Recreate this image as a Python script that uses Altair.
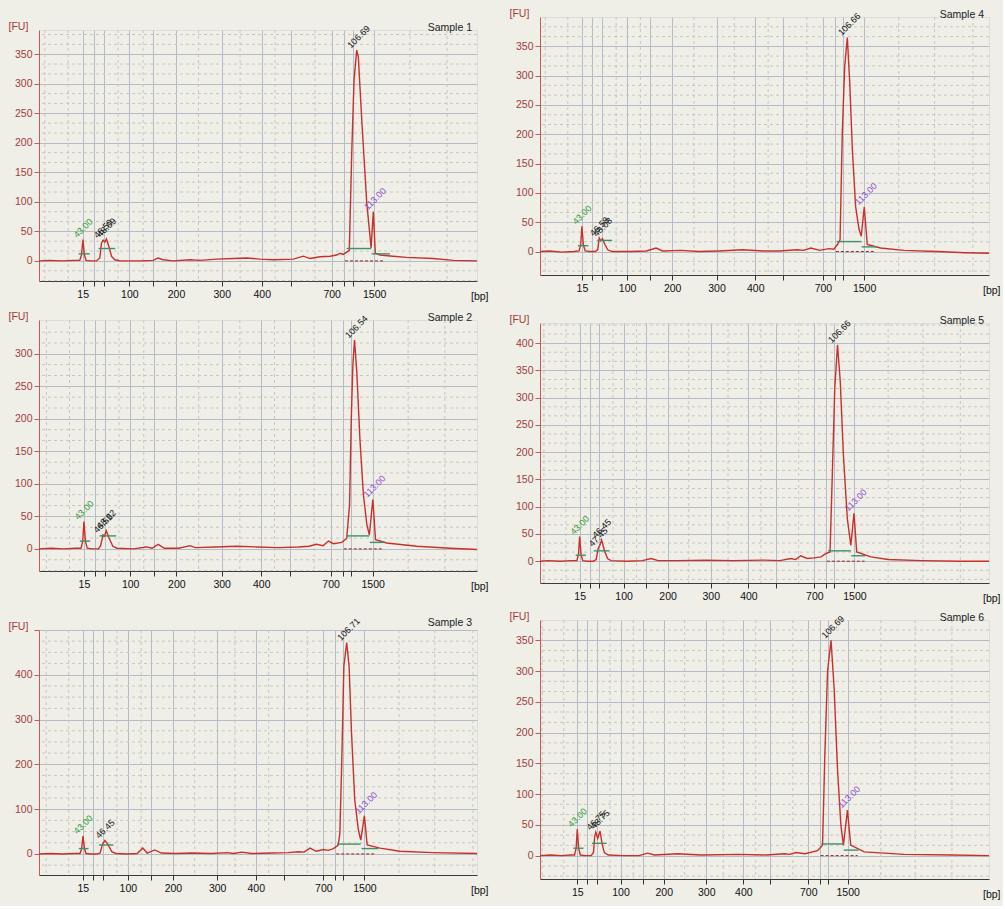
import altair as alt
import pandas as pd

# ---------------- data ----------------
# DNA 1000 ladder: fragment sizes and their migration times (s)
LADDER_BP = ["15", "25", "50", "100", "150", "200", "300", "400", "500", "700", "850", "1000", "1500"]
LADDER_T = [43.0, 45.6, 48.0, 54.2, 60.0, 65.4, 76.4, 86.0, 93.0, 102.8, 105.8, 107.8, 113.0]
LABELLED_BP = ["15", "100", "200", "300", "400", "700", "1500"]
MINOR_T = [33.9, 39.5, 51.5, 57.5, 70.8, 80.8, 89.2, 98.8, 121.6, 130.5, 140.0]

SAMPLES = ["Sample 1", "Sample 2", "Sample 3", "Sample 4", "Sample 5", "Sample 6"]

# electropherogram traces: migration time (s) and fluorescence (FU)
S1_T = [32.5, 35, 38, 41, 42.3, 42.7, 43.05, 43.4, 43.8, 45, 46.3, 47.1, 47.5, 47.9, 48.3, 48.7, 49.4, 49.9, 50.7, 52,
        56.7, 59.9, 61.1, 62.3, 64.7, 68.8, 71.2, 75.2, 79.2, 82.4, 85.6, 88.8, 93.6, 96.0, 97.6, 100.0, 102.4, 104.0,
        104.8, 105.6, 106.4, 107.03, 107.61, 108.17, 108.81, 109.2, 110.02, 111.22, 112.01, 112.25, 112.8, 113.28,
        114.4, 117.5, 120.8, 127.1, 132.0, 137.7]
S1_FU = [0, 1, 0, 1, 1, 10, 36, 10, 1, 0, 0, 5, 30, 35, 32, 37, 22, 8, 2, 0,
         0, 1, 5, 2, 0, 2, 1, 3, 4, 5, 3, 2, 3, 8, 4, 7, 8, 10,
         13, 11, 15, 18, 182, 307, 357, 345, 239, 98, 41, 22, 83, 13,
         10, 8, 6, 4, 1, 0]

S2_T = [32.1, 35, 38, 41, 42.3, 42.7, 43.0, 43.35, 43.8, 45, 46.5, 47.05, 47.6, 48.0, 48.4, 49.0, 50.0, 51, 55, 58.15,
        59.5, 61.0, 62.5, 66, 68.7, 70, 75, 80, 85, 90, 95, 97.5, 99.4, 101, 102.3, 103.5, 105.5, 106.7, 107.4, 107.8,
        108.2, 108.6, 109.15, 109.9, 110.76, 111.6, 112.2, 113.04, 113.7, 116.4, 123.7, 131.8, 138.3]
S2_FU = [0, 1, 0, 1, 1, 12, 42, 12, 1, 0, 0, 5, 21.5, 20, 28, 18, 4, 1, 0, 3,
         1, 7, 1, 1, 5, 2, 3, 4, 3, 2, 3, 4, 7, 5, 12, 8, 10, 16, 68, 196,
         283, 321, 273, 170, 83, 37, 21.5, 76, 14, 9, 4, 1, -1]

S3_T = [32.1, 35, 38, 41, 42.3, 42.7, 43.04, 43.4, 43.8, 45, 46.5, 47.3, 47.9, 48.5, 49.2, 50.2, 51.2, 54, 56.5, 57.9,
        59, 60.9, 62.5, 66, 70, 75, 78.8, 80.5, 82.5, 85, 90, 94, 96.6, 98, 99.5, 101, 102.8, 104, 105.3, 106.5, 106.9,
        107.35, 107.9, 108.6, 109.2, 109.8, 110.6, 111.5, 112.1, 113.0, 113.7, 116.9, 121.8, 130.1, 141.0]
S3_FU = [0, 1, 0, 1, 1, 12, 40, 12, 1, 0, 0, 2, 22, 30, 22, 5, 1, 0, 1, 13,
         2, 9, 2, 1, 2, 1, 3, 1, 4, 1, 2, 3, 5, 4, 13, 6, 10, 8, 12, 20, 46,
         196, 419, 472, 419, 270, 121, 54, 31, 85, 20, 13, 6, 3, 1]

S4_T = [32.6, 35, 38, 41, 42.3, 42.7, 43.0, 43.35, 43.8, 45, 46.3, 46.9, 47.3, 47.7, 48.1, 48.7, 49.4, 50.5, 55, 59,
        61.4, 63, 67.6, 72, 77, 82.8, 88, 92, 96.5, 98, 99.8, 102, 104.3, 105.5, 106.4, 107.05, 107.6, 108.2, 108.85,
        109.45, 110.1, 110.9, 111.75, 112.3, 113.05, 113.8, 117.1, 122.9, 131.2, 138, 144.0]
S4_FU = [0, 1, -1, 0, 1, 12, 43, 12, 1, 0, 0, 3, 23, 18, 22, 12, 3, 0, 0, 1,
         6, 1, 2, 0, 1, 3, 1, 1, 3, 2, 6, 2, 5, 4, 12, 20, 203, 316, 365,
         288, 174, 77, 38, 26, 76, 12, 6, 2, 0, -2, -3]

S5_T = [32.9, 35, 38, 41, 42.3, 42.7, 43.0, 43.35, 43.8, 45, 46.5, 47.2, 47.7, 48.2, 48.6, 49.3, 50.1, 51, 55, 59,
        61.2, 63, 68, 75, 82, 90, 94, 96.8, 98, 99.3, 101, 102.7, 104.5, 105.7, 106.8, 107.4, 108.0, 108.7, 109.4,
        110.2, 111.2, 112.1, 112.9, 113.6, 117.2, 121.6, 130, 140, 147.3]
S5_FU = [0, 1, 0, 1, 1, 12, 45, 12, 1, 0, 0, 3, 23, 30, 39, 20, 5, 1, 0, 1,
         5, 1, 1, 2, 1, 2, 1, 5, 3, 10, 5, 6, 8, 14, 17, 164, 317, 397, 330,
         195, 78, 29, 88, 17, 8, 3, 1, 0, 0]

S6_T = [33.35, 36, 39, 41.5, 42.3, 42.7, 43.0, 43.35, 43.8, 45, 46.6, 47.2, 47.5, 47.8, 48.3, 48.9, 49.4, 50.0, 51, 55,
        59, 61.2, 63, 69.0, 75, 85, 92, 96.6, 98, 99.6, 102, 105.2, 106.5, 107.1, 107.8, 108.7, 109.5, 110.4, 111.25,
        111.9, 112.95, 113.8, 117.3, 127.6, 140, 149.6]
S6_FU = [0, 1, 0, 1, 1, 12, 43, 12, 1, 0, 0, 5, 30, 38, 28, 40, 20, 5, 1, 0,
         0, 4, 1, 3, 1, 2, 1, 3, 2, 5, 3, 8, 17, 164, 300, 350, 273, 137, 50,
         17, 74, 17, 6, 2, 1, 0]

# peak annotations: (time, FU, label, kind)
S1_PEAKS = [(43.05, 36, "43.00", "lower"), (47.9, 35, "46.50", "peak"), (48.7, 37, "48.09", "peak"),
            (108.81, 357, "106.69", "peak"), (112.8, 83, "113.00", "upper")]
S2_PEAKS = [(43.0, 42, "43.00", "lower"), (47.6, 21.5, "46.52", "peak"), (48.4, 28, "48.62", "peak"),
            (108.6, 321, "106.54", "peak"), (113.04, 76, "113.00", "upper")]
S3_PEAKS = [(43.04, 40, "43.00", "lower"), (48.5, 30, "46.45", "peak"),
            (108.6, 472, "106.71", "peak"), (113.0, 85, "113.00", "upper")]
S4_PEAKS = [(43.0, 43, "43.00", "lower"), (47.3, 23, "46.58", "peak"), (48.1, 22, "48.08", "peak"),
            (108.85, 365, "106.66", "peak"), (113.05, 76, "113.00", "upper")]
S5_PEAKS = [(43.0, 45, "43.00", "lower"), (47.7, 23, "47.45", "peak"), (48.6, 39, "46.45", "peak"),
            (108.7, 397, "106.66", "peak"), (112.9, 88, "113.00", "upper")]
S6_PEAKS = [(43.0, 43, "43.00", "lower"), (47.8, 38, "46.75", "peak"), (48.9, 40, "48.75", "peak"),
            (108.7, 350, "106.69", "peak"), (112.95, 74, "113.00", "upper")]

# peak integration baselines: (start time, end time, FU)
S1_BARS = [(42.0, 44.7, 12), (46.8, 50.8, 21), (106.4, 112.3, 21), (112.4, 116.8, 12)]
S2_BARS = [(42.0, 44.5, 12), (46.8, 50.8, 20), (106.6, 112.2, 20), (112.3, 116.0, 10)]
S3_BARS = [(42.0, 44.4, 12), (47.0, 50.6, 20), (106.2, 112.1, 22), (112.3, 116.5, 12)]
S4_BARS = [(42.0, 44.6, 10), (46.8, 50.5, 19), (106.2, 112.3, 17), (112.4, 116.0, 8)]
S5_BARS = [(42.0, 44.6, 11), (46.6, 50.6, 19), (106.3, 112.1, 19), (112.2, 115.8, 10)]
S6_BARS = [(42.0, 44.6, 12), (46.8, 50.6, 20), (106.2, 111.9, 19), (112.0, 115.8, 9)]
BASELINE_SPAN = (106.0, 115.6)

# axis ranges of each panel
T_DOMAINS = [[32.5, 137.7], [32.1, 138.3], [32.1, 141.0], [32.6, 144.0], [32.9, 147.3], [33.35, 149.6]]
FU_DOMAINS = [[-34, 391], [-34, 352], [-47, 500], [-40, 400], [-40, 437], [-38, 383]]
FU_TICKS = [[0, 50, 100, 150, 200, 250, 300, 350],
            [0, 50, 100, 150, 200, 250, 300],
            [0, 100, 200, 300, 400, 500],
            [0, 50, 100, 150, 200, 250, 300, 350],
            [0, 50, 100, 150, 200, 250, 300, 350, 400],
            [0, 50, 100, 150, 200, 250, 300, 350]]

TRACES = [(S1_T, S1_FU), (S2_T, S2_FU), (S3_T, S3_FU), (S4_T, S4_FU), (S5_T, S5_FU), (S6_T, S6_FU)]
PEAKS = [S1_PEAKS, S2_PEAKS, S3_PEAKS, S4_PEAKS, S5_PEAKS, S6_PEAKS]
BARS = [S1_BARS, S2_BARS, S3_BARS, S4_BARS, S5_BARS, S6_BARS]

# ---------------- style ----------------
FONT = "Liberation Sans"
RED = "#c8302c"
AXIS_RED = "#c25a5a"
LABEL_RED = "#a33b3b"
GRID = "#b6bbc8"
MINOR = "#c6c6c6"
KIND_COLOR = {"lower": "#2f9a3a", "peak": "#111111", "upper": "#8a4fd0"}

SIZES = [(438, 251), (438, 251), (438, 245), (449, 258), (449, 260), (449, 259)]

label_expr = " : ".join(
    f"datum.value == {t} ? '{bp}'" for t, bp in zip(LADDER_T, LADDER_BP) if bp in LABELLED_BP
) + " : ''"


def panel(i):
    w, h = SIZES[i]
    t_dom, fu_dom, ticks = T_DOMAINS[i], FU_DOMAINS[i], FU_TICKS[i]
    step = ticks[1] - ticks[0]
    sub = step / 3 if step == 50 else step / 4
    minor_y = []
    k = int(fu_dom[0] // sub)
    while k * sub <= fu_dom[1]:
        v = k * sub
        if v >= fu_dom[0] and abs(v / step - round(v / step)) > 1e-6:
            minor_y.append(v)
        k += 1
    minor_x = [t for t in MINOR_T if t_dom[0] < t < t_dom[1]]

    y_label_expr = f"datum.value > {ticks[-1] - 1} && datum.value >= {fu_dom[1] - 5} ? '' : datum.label"

    X = alt.X("t:Q", scale=alt.Scale(domain=t_dom, nice=False, zero=False),
              axis=alt.Axis(values=LADDER_T, labelExpr=label_expr, grid=True, gridColor=GRID, gridWidth=1,
                            tickColor="#333333", tickSize=5, domainColor="#3a3a3a", labelColor="#111111",
                            labelFontSize=10.5, labelFont=FONT, labelOverlap=False, labelFlush=False,
                            labelPadding=3,
                            title="[bp]", titleX=w + 11, titleY=18, titleAlign="right", titleBaseline="alphabetic",
                            titleFontWeight="normal", titleFontSize=10.5, titleFont=FONT, titleColor="#111111"))
    Y = alt.Y("fu:Q", scale=alt.Scale(domain=fu_dom, nice=False, zero=False),
              axis=alt.Axis(values=ticks, labelExpr=y_label_expr, grid=True, gridColor=GRID, gridWidth=1,
                            tickColor=AXIS_RED, tickSize=5, domainColor=AXIS_RED, labelColor=LABEL_RED,
                            labelFontSize=10.5, labelFont=FONT, labelPadding=2,
                            title="[FU]", titleAngle=0, titleX=-31, titleY=1, titleAlign="left",
                            titleBaseline="bottom", titleFontWeight="normal", titleFontSize=10.5, titleFont=FONT,
                            titleColor=LABEL_RED))

    trace = pd.DataFrame({"t": TRACES[i][0], "fu": TRACES[i][1]})
    peaks = pd.DataFrame(PEAKS[i], columns=["t", "fu", "label", "kind"])
    peaks["col"] = peaks["kind"].map(KIND_COLOR)
    bars = pd.DataFrame(BARS[i], columns=["t", "t2", "fu"])
    base = pd.DataFrame({"t": [BASELINE_SPAN[0]], "t2": [BASELINE_SPAN[1]], "fu": [0]})

    l_minor_y = alt.Chart(pd.DataFrame({"fu": minor_y})).mark_rule(
        color=MINOR, strokeDash=[3, 3], strokeWidth=1).encode(y=Y)
    l_minor_x = alt.Chart(pd.DataFrame({"t": minor_x})).mark_rule(
        color=MINOR, strokeDash=[3, 3], strokeWidth=1).encode(x=X)
    l_base = alt.Chart(base).mark_rule(color="#8b2a2a", strokeDash=[3, 2], strokeWidth=1).encode(
        x=X, x2="t2:Q", y=Y)
    l_trace = alt.Chart(trace).mark_line(color=RED, strokeWidth=1.4).encode(x=X, y=Y)
    l_bars = alt.Chart(bars).mark_rule(color="#3f8f6a", strokeWidth=1.4).encode(x=X, x2="t2:Q", y=Y)
    l_text = alt.Chart(peaks).mark_text(angle=315, align="left", baseline="bottom", dx=-3, dy=-3,
                                        fontSize=9, font=FONT).encode(
        x=X, y=Y, text="label:N", color=alt.Color("col:N", scale=None))

    return alt.layer(l_minor_y, l_minor_x, l_base, l_trace, l_bars, l_text).properties(
        width=w, height=h,
        title=alt.TitleParams(SAMPLES[i], anchor="end", frame="group", fontSize=10.5, fontWeight="normal",
                              font=FONT, color="#222222", offset=-12, dx=-5))


def gap(h, w):
    """Invisible strip used only to set the vertical gaps between panels."""
    return alt.Chart(pd.DataFrame({"a": [0]})).mark_point(opacity=0).encode(
        x=alt.X("a:Q", axis=None), y=alt.Y("a:Q", axis=None)
    ).properties(width=w, height=h, view=alt.ViewBackground(fill="transparent", stroke="transparent"))


S = 6
left = alt.vconcat(gap(7, 438), panel(0), gap(27, 438), panel(1), gap(47, 438), panel(2),
                   spacing=S, bounds="flush")
right = alt.vconcat(panel(3), gap(36, 449), panel(4), gap(25, 449), panel(5),
                    spacing=S, bounds="flush")

chart = alt.hconcat(left, right, spacing=19).properties(
    background="#efeee7",
    padding={"left": 7, "top": 7, "right": 2, "bottom": 6},
).configure_view(fill="#f8f8f3", stroke="transparent").configure(font=FONT)

chart.save("out.html", embed_options={"renderer": "svg", "actions": False})
